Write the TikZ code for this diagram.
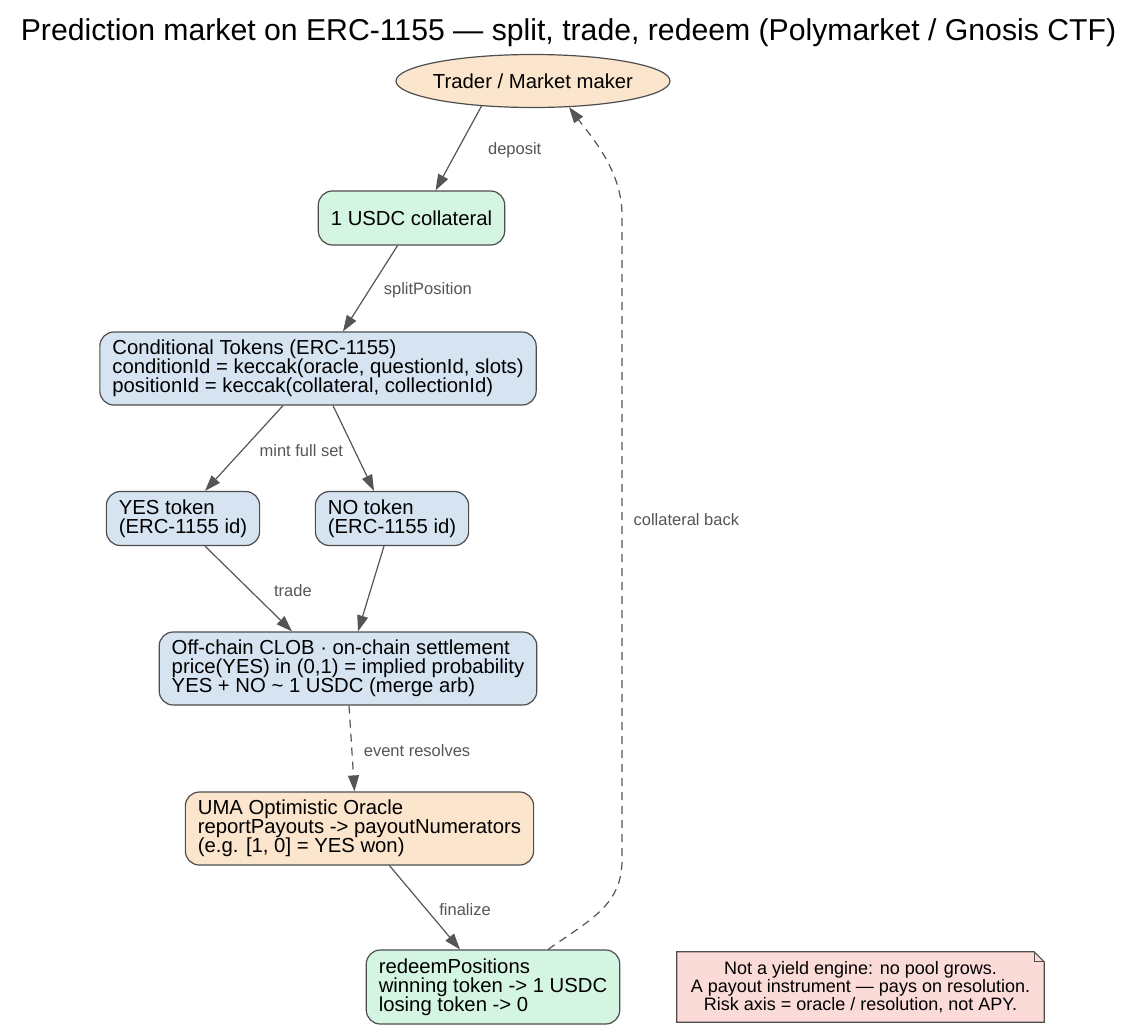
\documentclass[tikz,border=0pt]{standalone}
\usepackage{fontspec}
\setmainfont{Liberation Sans}
\usetikzlibrary{shapes.geometric,arrows.meta}

\definecolor{peach}{HTML}{FCE5CD}
\definecolor{mint}{HTML}{D5F5E3}
\definecolor{sky}{HTML}{D6E4F2}
\definecolor{rose}{HTML}{FADBD8}
\definecolor{edgegray}{HTML}{555555}
\definecolor{linegray}{HTML}{4D4D4D}

\begin{document}
\begin{tikzpicture}[x=1pt, y=-1pt,
    box/.style={draw=linegray, line width=1.2pt, rounded corners=14pt, align=left,
      inner xsep=12.5pt, inner ysep=4pt, minimum height=54pt, font=\fontsize{20.3}{19}\selectfont},
    flow/.style={draw=edgegray, line width=1.2pt, -{Triangle[length=16pt,width=11pt]}},
    backline/.style={dash pattern=on 8pt off 6pt},
    lbl/.style={text=edgegray, anchor=west, inner sep=0pt, font=\fontsize{16.5}{18}\selectfont}]
      \useasboundingbox (0,0) rectangle (1139,1031);

      \node[anchor=base, font=\fontsize{30.2}{32}\selectfont] (title) at (568.5,40)
        {Prediction market on ERC-1155 — split, trade, redeem (Polymarket / Gnosis CTF)};

      \node[ellipse, draw=linegray, line width=1.2pt, fill=peach, inner xsep=-4pt, inner ysep=0pt,
        minimum width=274pt, minimum height=53pt, font=\fontsize{20.3}{19}\selectfont] (trader) at (533,81)
        {Trader / Market maker};
      \node[box, fill=mint] (collateral) at (411.5,218) {1 USDC collateral};
      \node[box, fill=sky, minimum height=73pt] (ctokens) at (318,368.5)
        {Conditional Tokens (ERC-1155)\\conditionId = keccak(oracle, questionId, slots)\\positionId = keccak(collateral, collectionId)};
      \node[box, fill=sky] (yes) at (183,518.5) {YES token\\(ERC-1155 id)};
      \node[box, fill=sky] (no) at (392,518.5) {NO token\\(ERC-1155 id)};
      \node[box, fill=sky, minimum height=73pt] (clob) at (348,668.5)
        {Off-chain CLOB · on-chain settlement\\price(YES) in (0,1) = implied probability\\YES + NO \textasciitilde\ 1 USDC (merge arb)};
      \node[box, fill=peach, minimum height=73pt] (oracle) at (359.5,828.5)
        {UMA Optimistic Oracle\\reportPayouts -> payoutNumerators\\(e.g. [1, 0] = YES won)};
      \node[box, fill=mint, minimum height=74pt] (redeem) at (493,987)
        {redeemPositions\\winning token -> 1 USDC\\losing token -> 0};

      % note with folded corner
      \node[minimum width=367pt, minimum height=70pt, inner sep=0pt] (note) at (860.5,987) {};
      \draw[draw=linegray, line width=1.2pt, fill=rose] (note.south west) -- (note.north west)
        -- ([xshift=-10pt]note.north east) -- ([yshift=-10pt]note.north east) -- (note.south east) -- cycle;
      \draw[draw=linegray, line width=1pt] ([xshift=-10pt]note.north east) -- ([xshift=-10pt,yshift=-10pt]note.north east)
        -- ([yshift=-10pt]note.north east);
      \node[align=center, inner sep=0pt, font=\fontsize{18}{18}\selectfont] (notetext) at (note)
        {Not a yield engine: no pool grows.\\A payout instrument — pays on resolution.\\Risk axis = oracle / resolution, not APY.};

      \draw[flow] (trader.206) -- node[lbl, xshift=29pt, yshift=-2pt] {deposit} ([xshift=24pt]collateral.north);
      \draw[flow] ([xshift=-14pt]collateral.south) -- node[lbl, xshift=13pt, yshift=-2pt] {splitPosition} ([xshift=25pt]ctokens.north);
      \draw[flow] ([xshift=-35pt]ctokens.south) -- node[lbl, xshift=15pt, yshift=-2pt] {mint full set} ([xshift=22pt]yes.north);
      \draw[flow] ([xshift=15pt]ctokens.south) -- ([xshift=-18pt]no.north);
      \draw[flow] ([xshift=22pt]yes.south) -- node[lbl, xshift=25pt, yshift=-2pt] {trade} ([xshift=-56pt]clob.north);
      \draw[flow] ([xshift=-8pt]no.south) -- ([xshift=10pt]clob.north);
      \draw[flow, backline] ([xshift=1pt]clob.south) -- node[lbl, xshift=11.5pt, yshift=-2pt] {event resolves} ([xshift=-5pt]oracle.north);
      \draw[flow] ([xshift=30pt]oracle.south) -- node[lbl, xshift=14pt, yshift=-2pt] {finalize} ([xshift=-33pt]redeem.north);

      \coordinate (backlow) at (622,860);
      \coordinate (backhigh) at (622,215);
      \draw[flow, backline] ([xshift=55pt]redeem.north) .. controls (590,920) and (622,905) .. (backlow)
        -- node[lbl, pos=0.527, xshift=11pt] {collateral back} (backhigh)
        .. controls (622,170) and (590,135) .. (trader.-36);
    \end{tikzpicture}
\end{document}
